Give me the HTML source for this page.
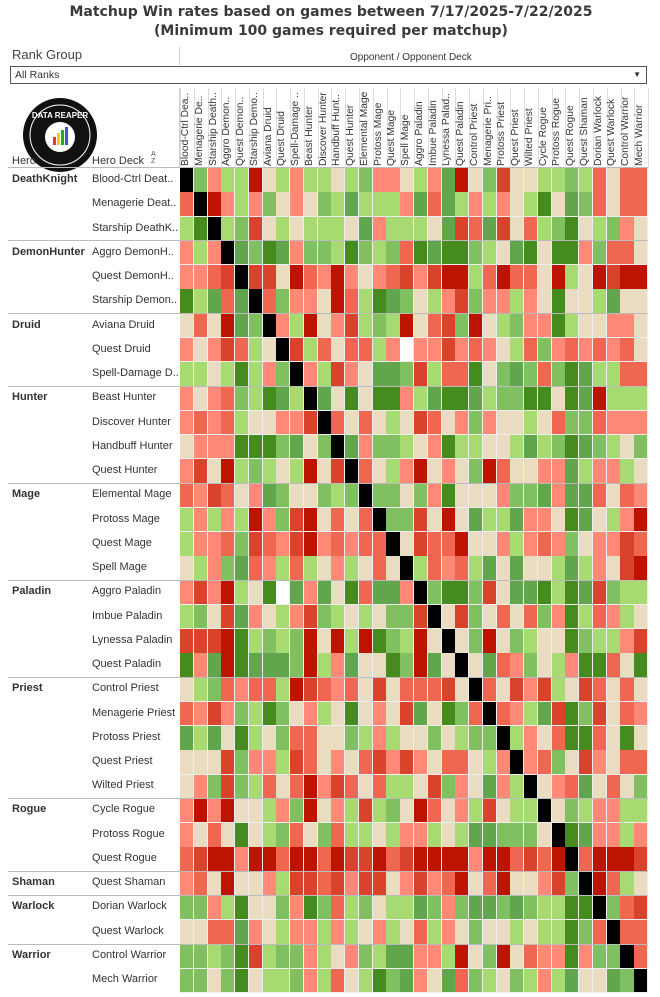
<!DOCTYPE html>
<html><head><meta charset="utf-8">
<style>
body{margin:0;width:660px;height:997px;background:#fff;font-family:"Liberation Sans",sans-serif;color:#333;position:relative;overflow:hidden}
.t{position:absolute;left:0;width:662px;text-align:center;font-weight:bold;font-size:14px;color:#3a3a3a;font-family:"DejaVu Sans","Liberation Sans",sans-serif}
.a{position:absolute;white-space:nowrap}
#grid{position:absolute;left:180px;top:168px;width:468px;height:825px}
.c{position:absolute;box-sizing:border-box;border-right:1px solid #eee;border-bottom:1px solid #eee}
.h{position:absolute;font-size:10.3px;color:#333;transform-origin:0 0;transform:rotate(-90deg);white-space:nowrap}
.hero{position:absolute;left:12px;font-size:11px;font-weight:bold;color:#333}
.deck{position:absolute;left:92px;font-size:11px;color:#333}
.sep{position:absolute;left:8px;width:640px;height:1px;background:#bbb}
</style></head><body>
<div class="t" style="top:4px">Matchup Win rates based on games between 7/17/2025-7/22/2025</div>
<div class="t" style="top:23px">(Minimum 100 games required per matchup)</div>
<div class="a" style="left:12px;top:47px;font-size:13px;color:#444">Rank Group</div>
<div class="a" style="left:179px;top:47px;width:1px;height:18px;background:#ccc"></div>
<div class="a" style="left:350px;top:52px;font-size:10px;color:#333">Opponent / Opponent Deck</div>
<div class="a" style="left:10px;top:66px;width:637px;height:18px;border:1px solid #555;box-sizing:border-box;font-size:10.5px;padding:2px 0 0 4px">All Ranks<span style="position:absolute;right:5px;top:3px;font-size:8px">&#9660;</span></div>
<div class="a" style="left:179px;top:88px;width:1px;height:80px;background:#ccc"></div>
<svg class="a" style="left:22px;top:97px" width="76" height="76" viewBox="0 0 76 76">
<circle cx="38" cy="38" r="37" fill="#111"/><circle cx="38" cy="38" r="30" fill="none" stroke="#fff" stroke-width="1"/>
<circle cx="38" cy="40" r="15" fill="#fff"/>
<rect x="31" y="40" width="3" height="8" fill="#e33"/><rect x="35" y="36" width="3" height="12" fill="#fc0"/><rect x="39" y="33" width="3" height="15" fill="#2a2"/><rect x="43" y="30" width="3" height="18" fill="#26c"/>
<text x="38" y="21" font-size="8" font-weight="bold" fill="#fff" text-anchor="middle" font-family="Liberation Sans">DATA REAPER</text>
</svg>
<div class="a" style="left:12px;top:155px;font-size:11px">Hero</div>
<div class="a" style="left:92px;top:155px;font-size:11px">Hero Deck</div>
<div class="a" style="left:151px;top:151px;font-size:7px;line-height:7px;color:#555">A<br>Z</div>
<div class="a" style="left:8px;top:167px;width:640px;height:1px;background:#bbb"></div>
<div id="hdr"></div>
<div id="grid"></div>

<div class="hero" style="top:173px">DeathKnight</div>
<div class="hero" style="top:246px">DemonHunter</div>
<div class="hero" style="top:319px">Druid</div>
<div class="hero" style="top:391px">Hunter</div>
<div class="hero" style="top:488px">Mage</div>
<div class="hero" style="top:585px">Paladin</div>
<div class="hero" style="top:682px">Priest</div>
<div class="hero" style="top:803px">Rogue</div>
<div class="hero" style="top:876px">Shaman</div>
<div class="hero" style="top:900px">Warlock</div>
<div class="hero" style="top:949px">Warrior</div>

<div class="deck" style="top:173px">Blood-Ctrl Deat..</div>
<div class="deck" style="top:197px">Menagerie Deat..</div>
<div class="deck" style="top:222px">Starship DeathK..</div>
<div class="deck" style="top:246px">Aggro DemonH..</div>
<div class="deck" style="top:270px">Quest DemonH..</div>
<div class="deck" style="top:294px">Starship Demon..</div>
<div class="deck" style="top:319px">Aviana Druid</div>
<div class="deck" style="top:343px">Quest Druid</div>
<div class="deck" style="top:367px">Spell-Damage D..</div>
<div class="deck" style="top:391px">Beast Hunter</div>
<div class="deck" style="top:416px">Discover Hunter</div>
<div class="deck" style="top:440px">Handbuff Hunter</div>
<div class="deck" style="top:464px">Quest Hunter</div>
<div class="deck" style="top:488px">Elemental Mage</div>
<div class="deck" style="top:513px">Protoss Mage</div>
<div class="deck" style="top:537px">Quest Mage</div>
<div class="deck" style="top:561px">Spell Mage</div>
<div class="deck" style="top:585px">Aggro Paladin</div>
<div class="deck" style="top:610px">Imbue Paladin</div>
<div class="deck" style="top:634px">Lynessa Paladin</div>
<div class="deck" style="top:658px">Quest Paladin</div>
<div class="deck" style="top:682px">Control Priest</div>
<div class="deck" style="top:707px">Menagerie Priest</div>
<div class="deck" style="top:731px">Protoss Priest</div>
<div class="deck" style="top:755px">Quest Priest</div>
<div class="deck" style="top:779px">Wilted Priest</div>
<div class="deck" style="top:803px">Cycle Rogue</div>
<div class="deck" style="top:828px">Protoss Rogue</div>
<div class="deck" style="top:852px">Quest Rogue</div>
<div class="deck" style="top:876px">Quest Shaman</div>
<div class="deck" style="top:900px">Dorian Warlock</div>
<div class="deck" style="top:925px">Quest Warlock</div>
<div class="deck" style="top:949px">Control Warrior</div>
<div class="deck" style="top:973px">Mech Warrior</div>

<div class="sep" style="top:240px"></div>
<div class="sep" style="top:313px"></div>
<div class="sep" style="top:386px"></div>
<div class="sep" style="top:483px"></div>
<div class="sep" style="top:580px"></div>
<div class="sep" style="top:677px"></div>
<div class="sep" style="top:798px"></div>
<div class="sep" style="top:871px"></div>
<div class="sep" style="top:895px"></div>
<div class="sep" style="top:944px"></div>

<div class="h" style="left:180px;top:166px">Blood-Ctrl Dea..</div>
<div class="h" style="left:194px;top:166px">Menagerie De..</div>
<div class="h" style="left:208px;top:166px">Starship Death..</div>
<div class="h" style="left:221px;top:166px">Aggro Demon..</div>
<div class="h" style="left:235px;top:166px">Quest Demon..</div>
<div class="h" style="left:249px;top:166px">Starship Demo..</div>
<div class="h" style="left:263px;top:166px">Aviana Druid</div>
<div class="h" style="left:276px;top:166px">Quest Druid</div>
<div class="h" style="left:290px;top:166px">Spell-Damage ..</div>
<div class="h" style="left:304px;top:166px">Beast Hunter</div>
<div class="h" style="left:318px;top:166px">Discover Hunter</div>
<div class="h" style="left:331px;top:166px">Handbuff Hunt..</div>
<div class="h" style="left:345px;top:166px">Quest Hunter</div>
<div class="h" style="left:359px;top:166px">Elemental Mage</div>
<div class="h" style="left:373px;top:166px">Protoss Mage</div>
<div class="h" style="left:386px;top:166px">Quest Mage</div>
<div class="h" style="left:400px;top:166px">Spell Mage</div>
<div class="h" style="left:414px;top:166px">Aggro Paladin</div>
<div class="h" style="left:428px;top:166px">Imbue Paladin</div>
<div class="h" style="left:441px;top:166px">Lynessa Palad..</div>
<div class="h" style="left:455px;top:166px">Quest Paladin</div>
<div class="h" style="left:469px;top:166px">Control Priest</div>
<div class="h" style="left:483px;top:166px">Menagerie Pri..</div>
<div class="h" style="left:496px;top:166px">Protoss Priest</div>
<div class="h" style="left:510px;top:166px">Quest Priest</div>
<div class="h" style="left:524px;top:166px">Wilted Priest</div>
<div class="h" style="left:538px;top:166px">Cycle Rogue</div>
<div class="h" style="left:551px;top:166px">Protoss Rogue</div>
<div class="h" style="left:565px;top:166px">Quest Rogue</div>
<div class="h" style="left:579px;top:166px">Quest Shaman</div>
<div class="h" style="left:593px;top:166px">Dorian Warlock</div>
<div class="h" style="left:606px;top:166px">Quest Warlock</div>
<div class="h" style="left:620px;top:166px">Control Warrior</div>
<div class="h" style="left:634px;top:166px">Mech Warrior</div>

<script>
var rows=[
"kbpaaseapaaeabppeapcsebreeaabaqeqq",
"qkspapbepebacaaapcqcapapeadecbqeqq",
"adkabreaeaaaecpaaaecrqcreqabdeabpe",
"papkcbdcpbbadbabqdcddbaecdeddpbqq",
"ppqrkrresqpspepqrprssaqsqqesaesrss",
"dacqckqbppesqadcbeaprbppapedeeacee",
"eqescbkpaseprabaseqrbseabppdaeepp",
"peprqakqraqeqqapwpprpqpeaqbpqpqpq",
"aaeadapbkparpeccbraqqdebcbqbdcaaqq",
"pepqbadcakcededdpacddcabbddedcsaaa",
"pqpqaeepprkqeqeaerqepbpeeaeqbbqppp",
"epppdddbcebkcpbbaepdaaeeacabdcbaeb",
"presabaeaserkqeapsepebsqeeppcappae",
"qprqepcbeebabkbbebpdeeepbbcpccqeqp",
"apapaspbrseqeqkbbresecaacppedceaps",
"appqbrqprspqpqqkerqqseepapqpbepprq",
"eapbcqpaqaepaeqekaqpqacecee acapers",
"prpsaedwcpcedqccpkbddbreccdadcrbaa",
"aberc peaprbaeaebbrkerbeqeqbpdaqpae",
"rrrsdababsesasdbasekebsebaeedbaapr",
"dpcsdcccbsapceedbsceckcqpbeapddqedb",
"eabqpqqasrqpqereqqqrkbqerpraerqeq",
"qprpbadbepaedeperced bqkqpacrdbreqp",
"cacedaebqqeebapaeebeabbkapeqddqede",
"eeerbppar qepeqrprpeqqeapkpqberpeqq",
"epbrbaqeqsprqeqaaerbpecpaakpqceqebp",
"pspseeapbsepa rabesqepareaakebappaa",
"peqedeabqebqaaeappaeaccbbbekdcppap",
"qrsspssqssqsrrsqrssssps sqrqskqsssr",
"pqeseeparrqrprrepr pqseqseeprbksqae",
"bbpadeebpdbqabeaacbpbccbcbaaddkbqr",
"eeqqcpeappapaepaeqapebeeaeaadbqkqq",
"bbabdrabbpaepbaccppaseb seqppdpbbkq",
"bbebdeaabpaqeadbcpecqbaebapaceecbbk"
];
var col={k:"#000",a:"#a8da72",b:"#80c060",c:"#61a64c",d:"#468b1d",e:"#e9dcc1",p:"#ff8877",q:"#ef6651",r:"#d9432b",s:"#bd1402",w:"#fff"};
var g=document.getElementById("grid"),W=468/34,H=825/34,h="";
for(var i=0;i<34;i++){var r=rows[i].replace(/ /g,"");while(r.length<34)r+="e";
for(var j=0;j<34;j++){var ch=(i==j)?"k":r[j];if(ch=="k"&&i!=j)ch="e";
h+='<div class="c" style="left:'+(j*W).toFixed(2)+'px;top:'+(i*H).toFixed(2)+'px;width:'+(W+0.3).toFixed(2)+'px;height:'+(H+0.3).toFixed(2)+'px;background:'+(col[ch]||"#e9dcc1")+'"></div>';}}
g.innerHTML=h;
var hd="";for(var j=0;j<=34;j++){hd+='<div class="a" style="left:'+(180+j*W).toFixed(1)+'px;top:88px;width:1px;height:80px;background:#ddd"></div>';}
document.getElementById("hdr").innerHTML=hd;
</script>
</body></html>
